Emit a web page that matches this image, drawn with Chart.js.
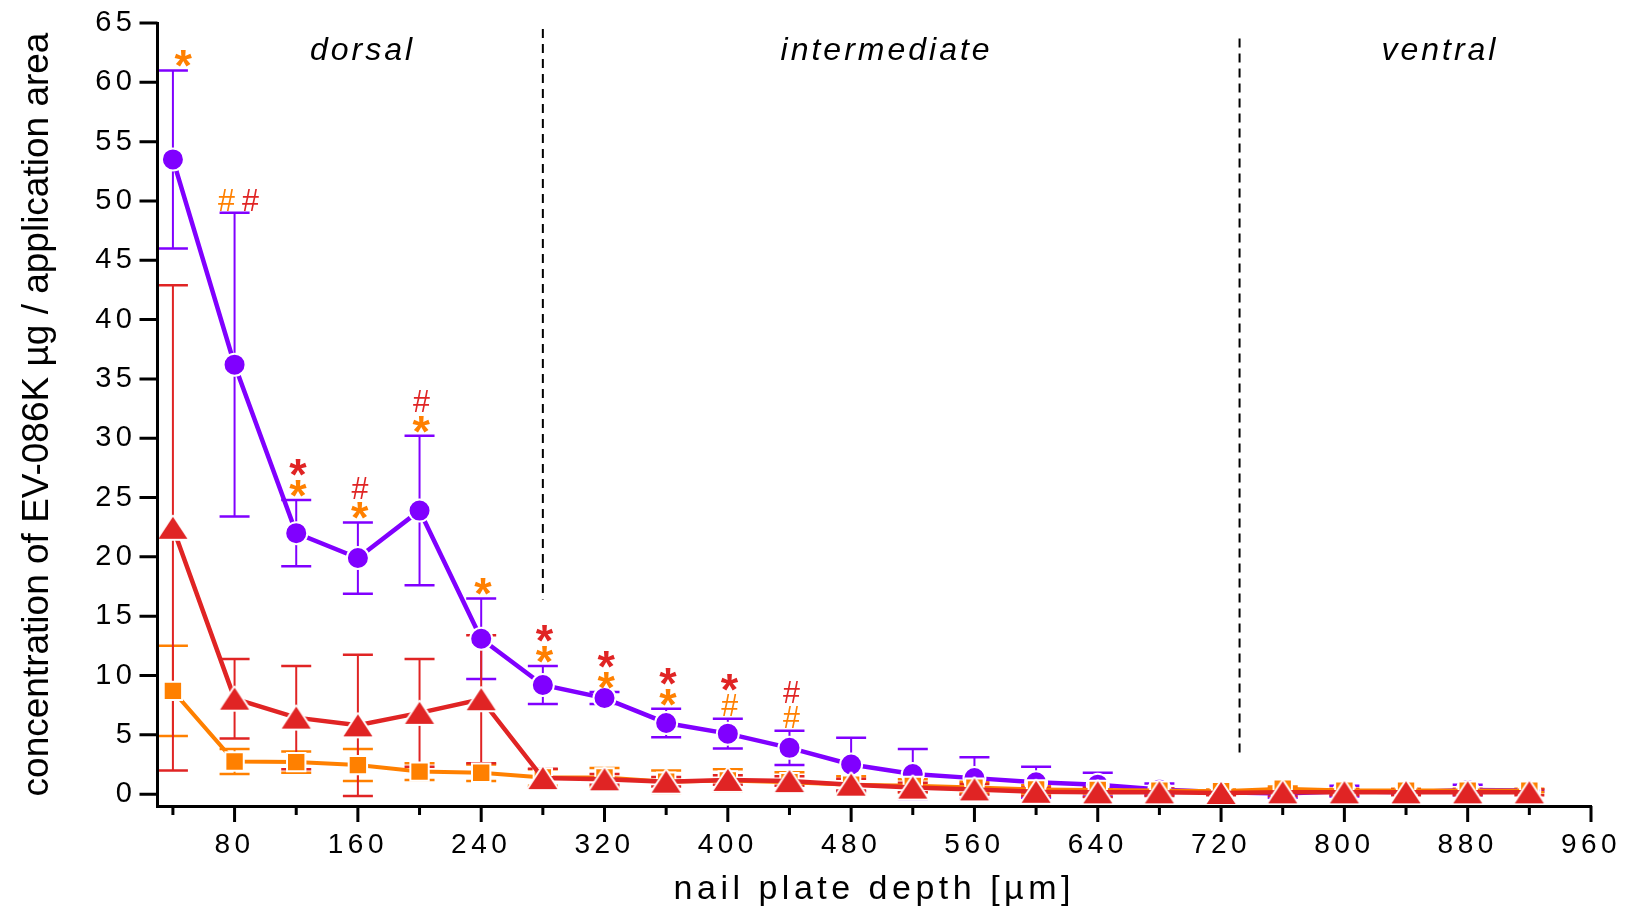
<!DOCTYPE html>
<html>
<head>
<meta charset="utf-8">
<script src="https://cdn.jsdelivr.net/npm/chart.js"></script>
<style>
  html, body { margin: 0; padding: 0; background: #fff; }
  #chart { display: block; }
</style>
</head>
<body>
<canvas id="chart" width="1626" height="910"></canvas>
<script>
// nail plate depth (µm) of each slice
const depths = [40, 80, 120, 160, 200, 240, 280, 320, 360, 400, 440, 480, 520, 560, 600, 640, 680, 720, 760, 800, 840, 880, 920];

// purple series (circles)
const purpleMean = [53.5, 36.2, 22.0, 19.9, 23.9, 13.1, 9.2, 8.1, 6.0, 5.1, 3.9, 2.5, 1.7, 1.35, 1.0, 0.8, 0.4, 0.15, 0.05, 0.25, 0.15, 0.35, 0.3];
const purpleSD = [7.5, 12.8, 2.8, 3.0, 6.3, 3.4, 1.6, 0.5, 1.2, 1.25, 1.45, 2.25, 2.1, 1.75, 1.3, 1.0, 0.5, 0.15, 0.35, 0.45, 0.15, 0.45, 0.1];

// red series (triangles)
const redMean = [22.45, 8.05, 6.45, 5.8, 6.85, 8.0, 1.35, 1.25, 1.05, 1.2, 1.1, 0.8, 0.55, 0.4, 0.2, 0.15, 0.15, 0.1, 0.15, 0.15, 0.15, 0.15, 0.15];
const redSD = [20.45, 3.35, 4.35, 5.95, 4.55, 5.4, 0.8, 0.45, 0.4, 0.4, 0.4, 0.5, 0.4, 0.45, 0.35, 0.4, 0.3, 0.2, 0.3, 0.25, 0.25, 0.25, 0.25];

// orange series (squares)
const orangeMean = [8.7, 2.75, 2.7, 2.45, 1.9, 1.8, 1.4, 1.4, 1.05, 1.15, 1.0, 0.8, 0.7, 0.55, 0.4, 0.35, 0.3, 0.25, 0.45, 0.3, 0.3, 0.3, 0.3];
const orangeSD = [3.8, 1.05, 0.9, 1.35, 0.7, 0.7, 0.7, 0.8, 0.95, 0.95, 0.85, 0.7, 0.55, 0.5, 0.35, 0.3, 0.2, 0.15, 0.2, 0.15, 0.15, 0.15, 0.15];

// significance marks above the purple error bars
const orangeMarks = ['*', '#', '*', '*', '*', '*', '*', '*', '*', '#', '#', '', '', '', '', '', '', '', '', '', '', '', ''];
const redMarks = ['', '#', '*', '#', '#', '', '*', '*', '*', '*', '#', '', '', '', '', '', '', '', '', '', '', '', ''];
const sideBySideDepths = [80];

// axis ticks
const xTickValues = [40, 80, 120, 160, 200, 240, 280, 320, 360, 400, 440, 480, 520, 560, 600, 640, 680, 720, 760, 800, 840, 880, 920, 960];
const yTickValues = [0, 5, 10, 15, 20, 25, 30, 35, 40, 45, 50, 55, 60, 65];

// nail regions
const regionNames = ['dorsal', 'intermediate', 'ventral'];
const regionBounds = [280, 732];
const regionLineTop = [64.5, 63.7];
const regionLineBottom = [16.4, 3.0];

const FONT = '"Liberation Sans", Arial, Helvetica, sans-serif';
const PURPLE = '#8000ff';
const RED = '#e02424';
const ORANGE = '#ff8000';

Chart.defaults.font.family = FONT;
Chart.defaults.color = '#000';

const toPoints = (means) => depths.map((d, i) => ({ x: d, y: means[i] }));

function makeTriangle(color) {
    const c = document.createElement('canvas');
    c.width = 36;
    c.height = 30;
    const g = c.getContext('2d');
    g.beginPath();
    g.moveTo(18, 4);
    g.lineTo(3.5, 26);
    g.lineTo(32.5, 26);
    g.closePath();
    g.lineJoin = 'round';
    g.strokeStyle = '#fff';
    g.lineWidth = 4;
    g.stroke();
    g.fillStyle = color;
    g.fill();
    return c;
}

function drawErrorBars(ctx, x, y, means, sds, color) {
    ctx.strokeStyle = color;
    depths.forEach((d, i) => {
        const px = x.getPixelForValue(d);
        const top = y.getPixelForValue(means[i] + sds[i]);
        const bot = y.getPixelForValue(means[i] - sds[i]);
        ctx.lineWidth = 2;
        ctx.beginPath();
        ctx.moveTo(px, top);
        ctx.lineTo(px, bot);
        ctx.stroke();
        ctx.lineWidth = 2.5;
        ctx.beginPath();
        ctx.moveTo(px - 15, top);
        ctx.lineTo(px + 15, top);
        ctx.moveTo(px - 15, bot);
        ctx.lineTo(px + 15, bot);
        ctx.stroke();
    });
}

const markHeight = (ch) => (ch === '*' ? 17 : 21);

// glyph drawn so that its ink box is centred on (cx, cy)
function drawMark(ctx, ch, cx, cy, color) {
    const h = markHeight(ch);
    const weight = ch === '*' ? 'bold ' : '';
    ctx.font = weight + '100px ' + FONT;
    let m = ctx.measureText(ch);
    const size = 100 * h / (m.actualBoundingBoxAscent + m.actualBoundingBoxDescent);
    ctx.font = weight + size + 'px ' + FONT;
    m = ctx.measureText(ch);
    const w = m.actualBoundingBoxLeft + m.actualBoundingBoxRight;
    const hh = m.actualBoundingBoxAscent + m.actualBoundingBoxDescent;
    ctx.fillStyle = color;
    ctx.textAlign = 'left';
    ctx.textBaseline = 'alphabetic';
    ctx.fillText(ch, cx - w / 2 + m.actualBoundingBoxLeft, cy - hh / 2 + m.actualBoundingBoxAscent);
}

// keep the plot area exactly where the reference has it
function noScalePadding(s) {
    s.paddingTop = 0;
    s.paddingBottom = 0;
    s.paddingLeft = 0;
    s.paddingRight = 0;
}

const decorPlugin = {
    id: 'decor',
    beforeDraw(chart) {
        chart.ctx.letterSpacing = '0px';
    },
    beforeDatasetsDraw(chart) {
        const { ctx, scales: { x, y } } = chart;
        ctx.save();
        // region separators
        ctx.strokeStyle = '#000';
        ctx.lineWidth = 2;
        ctx.setLineDash([9, 6]);
        regionBounds.forEach((b, i) => {
            const px = x.getPixelForValue(b);
            ctx.beginPath();
            ctx.moveTo(px, y.getPixelForValue(regionLineTop[i]));
            ctx.lineTo(px, y.getPixelForValue(regionLineBottom[i]));
            ctx.stroke();
        });
        ctx.setLineDash([]);
        drawErrorBars(ctx, x, y, purpleMean, purpleSD, PURPLE);
        drawErrorBars(ctx, x, y, orangeMean, orangeSD, ORANGE);
        drawErrorBars(ctx, x, y, redMean, redSD, RED);
        ctx.restore();
    },
    afterDatasetsDraw(chart) {
        const { ctx, scales: { x, y } } = chart;
        ctx.save();
        // region names
        ctx.letterSpacing = '3px';
        ctx.font = 'italic 32px ' + FONT;
        ctx.fillStyle = '#000';
        ctx.textAlign = 'center';
        ctx.textBaseline = 'alphabetic';
        const labelAt = [163, 503, 862];
        regionNames.forEach((name, i) => {
            ctx.fillText(name, x.getPixelForValue(labelAt[i]), y.getPixelForValue(61.9));
        });
        ctx.letterSpacing = '0px';
        // significance marks
        depths.forEach((d, i) => {
            const om = orangeMarks[i];
            const rm = redMarks[i];
            if (!om && !rm) return;
            const px = x.getPixelForValue(d);
            const cap = y.getPixelForValue(purpleMean[i] + purpleSD[i]);
            if (sideBySideDepths.includes(d)) {
                const cy = cap - 13;
                if (om) drawMark(ctx, om, px - 8, cy, ORANGE);
                if (rm) drawMark(ctx, rm, px + 16, cy, RED);
                return;
            }
            let cy = cap;
            let prevH = 0;
            [[om, ORANGE], [rm, RED]].forEach(([ch, col]) => {
                if (!ch) return;
                const h = markHeight(ch);
                cy -= prevH ? prevH / 2 + h / 2 + 4 : h / 2 + 3;
                drawMark(ctx, ch, px + 2, cy, col);
                prevH = h;
            });
        });
        ctx.restore();
        // the axis labels and the x title are drawn after this hook
        ctx.letterSpacing = '4.5px';
    },
    afterDraw(chart) {
        const { ctx, chartArea, scales: { x, y } } = chart;
        ctx.save();
        ctx.strokeStyle = '#000';
        ctx.lineWidth = 3;
        ctx.beginPath();
        x.ticks.forEach((t) => {
            const px = x.getPixelForValue(t.value);
            const len = t.value % 80 === 0 ? 16 : 9;
            ctx.moveTo(px, chartArea.bottom);
            ctx.lineTo(px, chartArea.bottom + len);
        });
        y.ticks.forEach((t) => {
            const py = y.getPixelForValue(t.value);
            ctx.moveTo(chartArea.left - 18, py);
            ctx.lineTo(chartArea.left, py);
        });
        ctx.stroke();
        ctx.restore();
    }
};

const ctx = document.getElementById('chart').getContext('2d');

new Chart(ctx, {
    type: 'line',
    data: {
        datasets: [
            {
                label: 'red',
                data: toPoints(redMean),
                borderColor: RED,
                backgroundColor: RED,
                borderWidth: 4.5,
                pointStyle: makeTriangle(RED),
                pointRadius: 13
            },
            {
                label: 'orange',
                data: toPoints(orangeMean),
                borderColor: ORANGE,
                backgroundColor: ORANGE,
                borderWidth: 4,
                pointStyle: 'rect',
                pointRadius: 13,
                pointBorderColor: '#fff',
                pointBorderWidth: 2
            },
            {
                label: 'purple',
                data: toPoints(purpleMean),
                borderColor: PURPLE,
                backgroundColor: PURPLE,
                borderWidth: 4.5,
                pointStyle: 'circle',
                pointRadius: 11,
                pointBorderColor: '#fff',
                pointBorderWidth: 2
            }
        ]
    },
    options: {
        responsive: false,
        animation: false,
        devicePixelRatio: 1,
        layout: { padding: { top: 23, right: 35, left: 0, bottom: 0 } },
        plugins: {
            legend: { display: false },
            tooltip: { enabled: false }
        },
        scales: {
            x: {
                type: 'linear',
                min: 30,
                max: 960,
                afterBuildTicks: (s) => { s.ticks = xTickValues.map((v) => ({ value: v })); },
                afterFit: (s) => { s.height = 104; noScalePadding(s); },
                grid: { display: false, drawTicks: false, z: 1 },
                border: { display: true, color: '#000', width: 3, z: 1 },
                ticks: {
                    z: 1,
                    padding: 22,
                    autoSkip: false,
                    maxRotation: 0,
                    minRotation: 0,
                    color: '#000',
                    font: { size: 28 },
                    callback: (v) => (v % 80 === 0 ? String(v) : '')
                },
                title: {
                    display: true,
                    text: 'nail plate depth [µm]',
                    color: '#000',
                    font: { size: 34 },
                    padding: { top: 0, bottom: 0 }
                }
            },
            y: {
                min: -1,
                max: 65,
                afterBuildTicks: (s) => { s.ticks = yTickValues.map((v) => ({ value: v })); },
                afterFit: (s) => { s.width = 157.5; noScalePadding(s); },
                grid: { display: false, drawTicks: false, z: -1 },
                border: { display: true, color: '#000', width: 3, z: 1 },
                ticks: {
                    z: 1,
                    padding: 21,
                    color: '#000',
                    font: { size: 29 }
                },
                title: {
                    display: true,
                    text: 'concentration of EV-086K µg / application area',
                    color: '#000',
                    font: { size: 37 },
                    padding: { top: 16, bottom: 0 }
                }
            }
        }
    },
    plugins: [decorPlugin]
});
</script>
</body>
</html>
